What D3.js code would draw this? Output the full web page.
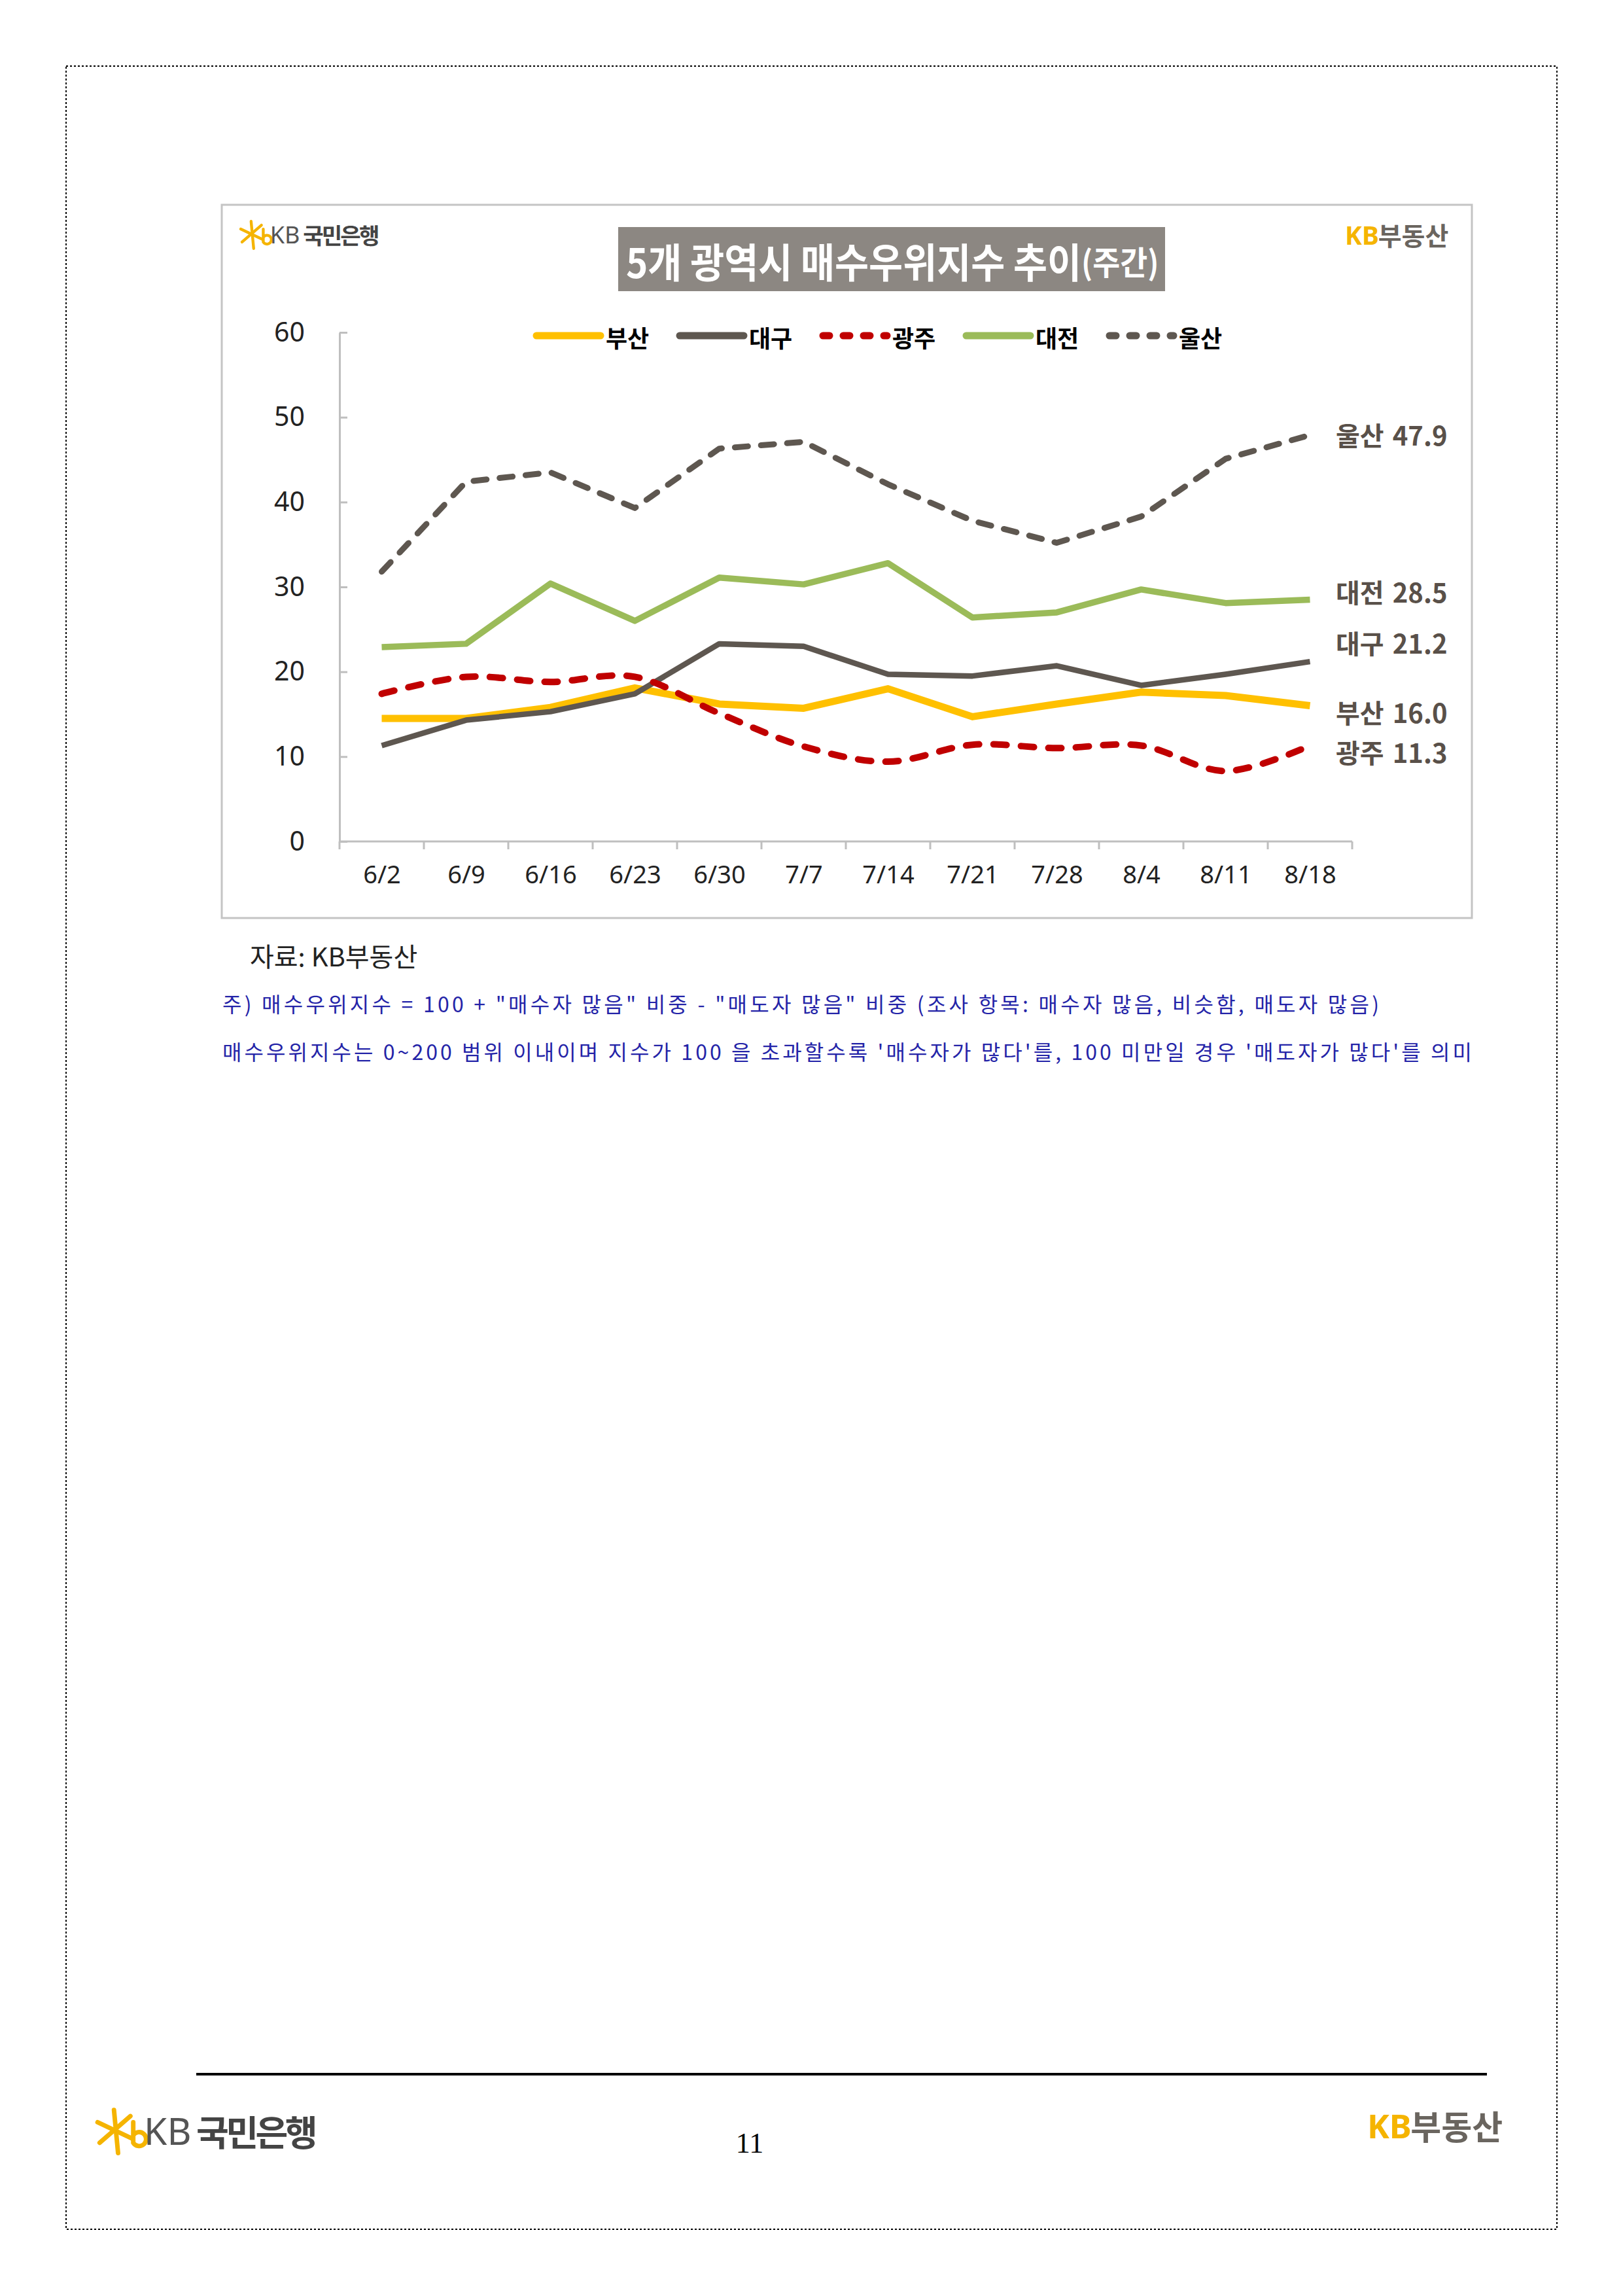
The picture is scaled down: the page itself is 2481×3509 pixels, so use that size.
<!DOCTYPE html>
<html><head><meta charset="utf-8">
<script src="https://cdn.jsdelivr.net/npm/d3@7"></script>
<style>body{margin:0;background:#fff}</style>
</head><body>
<script>
// ---------- data ----------
const categories = ['6/2','6/9','6/16','6/23','6/30','7/7','7/14','7/21','7/28','8/4','8/11','8/18'];
const seriesNames = ['부산','대구','광주','대전','울산'];
const busan   = [14.5,14.5,15.8,18.1,16.2,15.7,18.0,14.7,16.2,17.6,17.2,16.0];
const daegu   = [11.3,14.3,15.3,17.4,23.3,23.0,19.7,19.5,20.7,18.4,19.7,21.2];
const gwangju = [17.4,19.4,18.8,19.4,15.1,11.2,9.4,11.4,11.0,11.3,8.3,11.3];
const daejeon = [22.9,23.3,30.4,26.0,31.1,30.3,32.8,26.4,27.0,29.7,28.1,28.5];
const ulsan   = [31.8,42.4,43.5,39.3,46.3,47.1,42.1,37.8,35.2,38.3,45.1,47.9];
const yTicks = [0,10,20,30,40,50,60];
const titleText = '5개 광역시 매수우위지수 추이';
const titleSub = '(주간)';
const sourceText = '자료: KB부동산';
const note1 = '주) 매수우위지수 = 100 + "매수자 많음" 비중 - "매도자 많음" 비중 (조사 항목: 매수자 많음, 비슷함, 매도자 많음)';
const note2 = "매수우위지수는 0~200 범위 이내이며 지수가 100 을 초과할수록 '매수자가 많다'를, 100 미만일 경우 '매도자가 많다'를 의미";
const pageNumber = '11';

// ---------- styles ----------
const seriesValues = [busan, daegu, gwangju, daejeon, ulsan];
const styles = [
  {color:'#FFC000', width:11, dash:null, smooth:false},
  {color:'#5E5750', width:8.5, dash:null, smooth:false},
  {color:'#C00000', width:10, dash:'20,22', smooth:true, legendDash:'10,21'},
  {color:'#9BBB59', width:9.5, dash:null, smooth:false},
  {color:'#5E5750', width:9, dash:'20,20', smooth:false, legendDash:'10,21'}
];
const labelOffsets = [9, -29, 10, -12, -1];

const W = 2481, H = 3509;
const FONT = '"Noto Sans CJK KR","Noto Sans",sans-serif';
const svg = d3.select('body').append('svg').attr('width', W).attr('height', H)
  .style('font-family', FONT);
svg.append('rect').attr('width', W).attr('height', H).attr('fill', '#fff');

// page border
svg.append('rect').attr('x',101).attr('y',101).attr('width',2279).attr('height',3306)
  .attr('fill','none').attr('stroke','#000').attr('stroke-width',2).attr('stroke-dasharray','3,3');

// chart frame
svg.append('rect').attr('x',339).attr('y',313).attr('width',1911).attr('height',1090)
  .attr('fill','#fff').attr('stroke','#C4C4C4').attr('stroke-width',3);

// logos
function star(g, cx, cy, s){
  const c = '#F5B400';
  const st = g.append('g').attr('stroke', c).attr('stroke-linecap','round').attr('fill','none').attr('stroke-width', s*0.11);
  st.append('line').attr('x1',cx-s*0.05).attr('y1',cy-s*0.5).attr('x2',cx+s*0.05).attr('y2',cy+s*0.55);
  st.append('line').attr('x1',cx-s*0.45).attr('y1',cy-s*0.2).attr('x2',cx+s*0.4).attr('y2',cy+s*0.2);
  st.append('line').attr('x1',cx-s*0.4).attr('y1',cy+s*0.3).attr('x2',cx+s*0.35).attr('y2',cy-s*0.35);
  st.append('path').attr('d',`M${cx+s*0.42},${cy-s*0.2} L${cx+s*0.42},${cy+s*0.3} A${s*0.17},${s*0.17} 0 1 0 ${cx+s*0.42},${cy+s*0.12}`);
}
function kbBank(g, x, cy, s){
  star(g, x + s*0.55, cy, s*1.1);
  g.append('text').attr('x', x + s*1.3).attr('y', cy).attr('dominant-baseline','central')
    .attr('font-size', s).attr('fill','#555').attr('font-family','"Noto Sans",sans-serif').text('KB');
  g.append('text').attr('x', x + s*2.7).attr('y', cy).attr('dominant-baseline','central')
    .attr('font-size', s*0.95).attr('font-weight','bold').attr('fill','#444').attr('letter-spacing', -s*0.08).text('국민은행');
}
function kbLand(g, x, cy, s){
  g.append('text').attr('x', x).attr('y', cy).attr('dominant-baseline','central')
    .attr('font-size', s).attr('font-weight','bold').attr('fill','#F5B400').attr('font-family','"Noto Sans",sans-serif').text('KB');
  g.append('text').attr('x', x + s*1.3).attr('y', cy).attr('dominant-baseline','central')
    .attr('font-size', s).attr('font-weight','bold').attr('fill','#6A655F').text('부동산');
}
kbBank(svg.append('g'), 366, 358, 36);
kbLand(svg.append('g'), 2056, 358, 39);
kbBank(svg.append('g'), 146, 3256, 57);
kbLand(svg.append('g'), 2090, 3248, 51);

// title box
svg.append('rect').attr('x',945).attr('y',347).attr('width',836).attr('height',98).attr('fill','#8C8782');
const tt = svg.append('text').attr('x',0).attr('y',0).attr('dominant-baseline','central')
  .attr('fill','#fff').attr('font-weight','bold').attr('font-size',62)
  .attr('transform','translate(957,398) scale(0.912,1)');
tt.append('tspan').text(titleText);
tt.append('tspan').attr('font-size',50).text(titleSub);

// scales
const x = d3.scalePoint().domain(categories).range([519, 2067]).padding(0.5);
const xb = d3.scaleBand().domain(categories).range([519, 2067]);
const y = d3.scaleLinear().domain([0, 60]).range([1286, 508]);

// y axis
const yAxis = svg.append('g').attr('transform','translate(519,0)')
  .call(d3.axisLeft(y).tickValues(yTicks).tickSizeInner(-12).tickSizeOuter(0).tickPadding(53));
yAxis.select('.domain').attr('stroke','#BFBFBF').attr('stroke-width',3);
yAxis.selectAll('.tick line').attr('stroke','#BFBFBF').attr('stroke-width',3);
yAxis.selectAll('.tick text').attr('font-size',41).attr('fill','#222').attr('font-family','"Noto Sans",sans-serif');

// x axis
const xAxis = svg.append('g').attr('transform','translate(0,1286)')
  .call(d3.axisBottom(x).tickSize(0).tickPadding(37));
xAxis.select('.domain').remove();
xAxis.selectAll('.tick text').attr('font-size',38).attr('fill','#222').attr('font-family','"Noto Sans",sans-serif');
svg.append('line').attr('x1',519).attr('x2',2067).attr('y1',1286).attr('y2',1286)
  .attr('stroke','#BFBFBF').attr('stroke-width',3);
const bounds = categories.map(c => xb(c)).concat([xb.range()[1]]);
svg.append('g').selectAll('line').data(bounds).join('line')
  .attr('x1',d=>d).attr('x2',d=>d).attr('y1',1286).attr('y2',1298)
  .attr('stroke','#BFBFBF').attr('stroke-width',3);

// lines
seriesValues.forEach((vals, i) => {
  const st = styles[i];
  const line = d3.line().x((d,j)=>x(categories[j])).y(d=>y(d))
    .curve(st.smooth ? d3.curveCatmullRom.alpha(0) : d3.curveLinear);
  svg.append('path').attr('d', line(vals)).attr('fill','none')
    .attr('stroke', st.color).attr('stroke-width', st.width)
    .attr('stroke-linejoin','round').attr('stroke-linecap', st.dash ? 'round' : 'butt')
    .attr('stroke-dasharray', st.dash);
});

// end labels
seriesValues.forEach((vals, i) => {
  const last = vals[vals.length-1];
  svg.append('text').attr('x', 2042).attr('y', y(last) + labelOffsets[i])
    .attr('dominant-baseline','central').attr('font-size',40).attr('font-weight','bold')
    .attr('fill','#595049').attr('word-spacing', 4).text(`${seriesNames[i]} ${last.toFixed(1)}`);
});

// legend
const lg = svg.append('g');
seriesNames.forEach((n, i) => {
  const st = styles[i];
  const lx = 820 + i*219;
  lg.append('line').attr('x1', lx).attr('x2', lx+98).attr('y1',513).attr('y2',513)
    .attr('stroke', st.color).attr('stroke-width', 11)
    .attr('stroke-linecap', 'round').attr('stroke-dasharray', st.legendDash || null);
  lg.append('text').attr('x', lx+106).attr('y',515).attr('dominant-baseline','central')
    .attr('font-size',36).attr('font-weight','bold').attr('fill','#000').text(n);
});

// source & notes
svg.append('text').attr('x',382).attr('y',1460).attr('dominant-baseline','central')
  .attr('font-size',40).attr('fill','#222').text(sourceText);
svg.append('text').attr('x',340).attr('y',1533).attr('dominant-baseline','central')
  .attr('font-size',32).attr('fill','#2424A8').attr('textLength',1768).attr('lengthAdjust','spacing').text(note1);
svg.append('text').attr('x',340).attr('y',1606).attr('dominant-baseline','central')
  .attr('font-size',32).attr('fill','#2424A8').attr('textLength',1910).attr('lengthAdjust','spacing').text(note2);

// footer
svg.append('line').attr('x1',300).attr('x2',2273).attr('y1',3170).attr('y2',3170)
  .attr('stroke','#000').attr('stroke-width',4);
svg.append('text').attr('x',1146).attr('y',3290).attr('text-anchor','middle')
  .attr('font-size',44).attr('font-family','"Liberation Serif",serif').attr('fill','#000').text(pageNumber);
</script>
</body></html>
